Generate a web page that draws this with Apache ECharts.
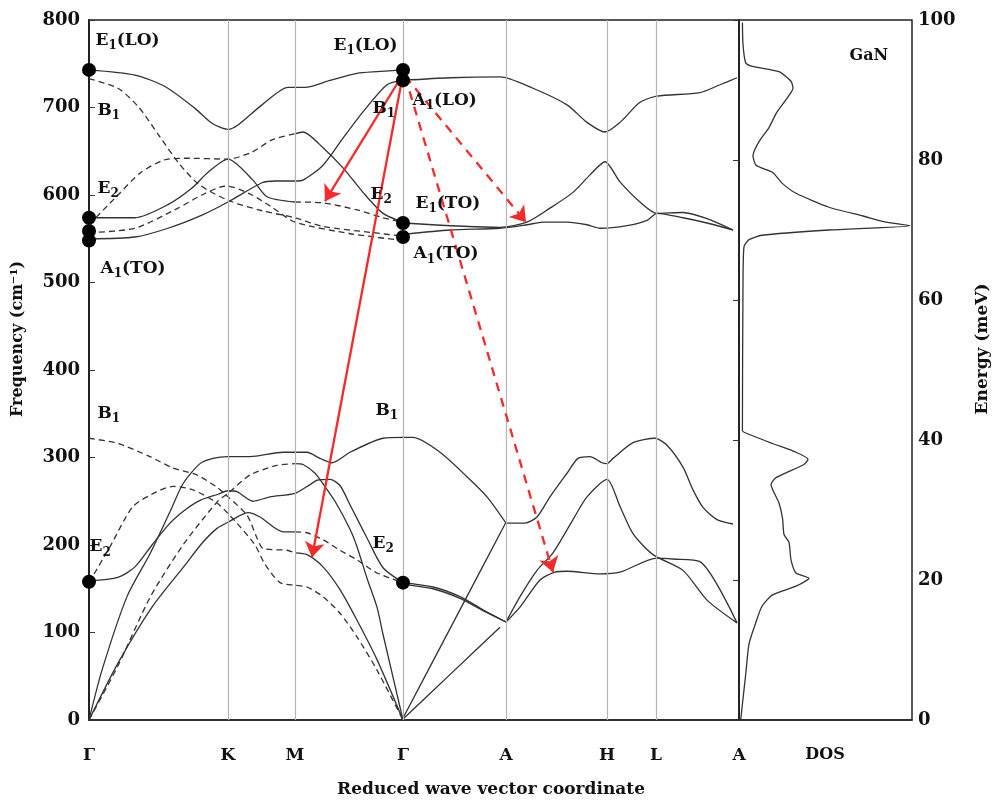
<!DOCTYPE html>
<html><head><meta charset="utf-8">
<script src="https://cdn.jsdelivr.net/npm/echarts@6/dist/echarts.min.js"></script>
<style>html,body{margin:0;padding:0;background:#fff}#c{width:992px;height:802px}</style>
</head><body><div id="c"></div>
<script>
// ---------- axis / tick data ----------
const symLabels = ['Γ','K','M','Γ','A','H','L','A'];
const symPos = [0,139,206,314,417,518,567,650];
const freqTicks = [0,100,200,300,400,500,600,700,800];
const energyTicks = [0,20,40,60,80,100];

// ---------- dispersion branches [reduced coordinate, cm^-1] ----------
// Gamma-K-M-Gamma, optical
const hiTop = [[0,743],[46,737],[76,724],[106,699],[123,682],[139,675],[149,680],[173,703],[199,723],[206,723],[216,723],[241,731],[268,739],[288,741],[314,743]];
const hiB1Dash = [[0,733],[29,722],[50,700],[70,668],[90,636],[110,612],[139,594],[173,582],[206,574],[234,564],[284,557],[314,553]];
const hiD2Dash = [[0,557],[46,562],[89,585],[113,600],[136,610],[139,610],[163,600],[183,586],[206,569],[260,556],[314,548]];
const hiD3Dash = [[0,566],[29,600],[51,625],[75,640],[100,642],[139,641],[163,649],[183,663],[206,670]];
const hiD3Solid = [[206,670],[214,672],[234,654],[254,631],[274,603],[294,579],[314,569]];
const hiS4Solid = [[0,574],[46,574],[79,589],[103,608],[119,626],[139,641],[164,617],[178,598],[206,592]];
const hiS4Dash = [[206,592],[234,591],[268,583],[294,574],[314,569]];
const hiS5Solid = [[0,550],[46,552],[79,562],[113,577],[139,592],[173,614],[186,616],[206,616],[214,617],[234,634],[254,665],[274,695],[298,726],[314,731]];
// Gamma-K-M-Gamma, acoustic / low optical
const loTop = [[0,0],[13,57],[38,141],[61,190],[81,238],[94,270],[111,293],[124,299],[139,301],[161,301],[194,306],[206,306],[218,306],[231,299],[243,294],[261,306],[294,322],[314,323]];
const loE2Solid = [[0,159],[29,163],[46,175],[63,200],[81,225],[96,240],[111,251],[129,258],[139,262],[148,261],[164,250],[181,255],[206,259],[221,269],[228,274],[241,275],[251,268],[261,246],[278,208],[294,174],[314,157]];
const loMidSolid = [[0,0],[29,65],[63,129],[96,177],[113,202],[128,219],[139,226],[159,237],[171,232],[194,215],[206,215]];
const loMidDash = [[206,215],[218,214],[234,206],[251,194],[268,183],[288,168],[314,157]];
const loAcDash = [[0,0],[29,62],[61,140],[94,200],[128,249],[139,259],[161,280],[188,291],[206,293]];
const loAcSolid = [[206,293],[214,292],[226,282],[234,270],[246,250],[261,218],[268,198],[278,162],[288,129],[294,98],[314,0]];
const loB1Dash = [[0,322],[29,316],[61,301],[84,288],[108,280],[128,266],[139,255],[158,234],[168,208],[174,196],[198,194],[206,191]];
const loB1Solid = [[206,191],[218,189],[234,175],[251,149],[268,114],[288,69],[314,0]];
const loE2Dash = [[0,157],[21,198],[44,244],[68,261],[84,267],[104,263],[128,248],[139,236],[151,221],[166,200],[176,178],[191,157],[206,154],[218,152],[234,141],[251,122],[268,95],[288,57],[314,0]];
// Gamma-A-H-L-A
const gaB1 = [[314,323],[324,323],[351,306],[378,278],[398,255],[417,225]];
const gaLA = [[313,0],[365,113],[417,226]];
const gaTA = [[313,0],[362,53],[411,106]];
const gaUp = [[417,225],[436,225],[448,232],[461,255],[478,282],[489,299],[501,301],[513,294],[518,293],[524,299],[544,317],[566,322],[578,314],[594,289],[604,263],[614,243],[628,229],[644,224]];
const gaE2a = [[314,157],[344,152],[371,141],[394,126],[417,112]];
const gaE2b = [[314,155],[344,150],[371,139],[394,125],[417,112]];
const gaH1 = [[417,112],[431,141],[448,171],[464,191],[484,229],[498,255],[518,275],[531,244],[544,213],[564,189],[594,171],[618,137],[648,111]];
const gaH2 = [[417,112],[431,129],[451,160],[466,169],[478,170],[511,167],[531,169],[568,185],[584,184],[611,181],[648,111]];
const gaTop = [[314,731],[361,734],[411,735],[444,722],[478,703],[498,683],[516,672],[531,683],[551,706],[568,713],[611,717],[631,726],[648,734]];
const gaMid = [[314,568],[411,563],[438,569],[461,585],[484,603],[501,623],[516,638],[531,615],[551,592],[568,579],[594,580],[618,573],[644,560]];
const gaLow = [[314,555],[361,560],[411,562],[438,566],[454,569],[478,569],[498,566],[511,562],[538,565],[558,571],[568,579],[594,574],[618,568],[644,560]];

// ---------- phonon density of states [DOS, cm^-1] ----------
const dos = [[3.4,797],[4,772],[6.7,751],[13.4,747],[40,741],[52,730],[54,722],[47,709],[37,693],[30,677],[20,661],[14,645],[17,634],[33.5,626],[43.6,613],[57,602],[90,586],[124,576],[147,569],[171,565],[90,560],[23,554],[10,549],[5,541],[4,496],[3.4,331],[6.7,328],[33.5,316],[57,306],[69,298],[65,292],[37,277],[32,269],[35,260],[40,248],[43.6,230],[45,212],[50,203],[52,183],[57,168],[70,162],[57,153],[33.5,143],[23,130],[17,112],[10,87],[6.7,52],[3.4,18],[1.7,0]];

// ---------- Gamma-point modes (dots) ----------
const gammaModes = [[0,743],[0,574],[0,559],[0,548],[0,158],[314,743],[314,731],[314,568],[314,552],[314,157]];

// ---------- scattering arrows ----------
const solidArrows = [[[314,738],[236,593]],[[314,738],[223,186]]];
const dashedArrows = [[[316,736],[437,569]],[[316,736],[464,169]]];

// ---------- mode labels ----------
const modeLabelText = [
 '{m|E}{s|1}{m|(LO)}','{m|B}{s|1}','{m|E}{s|2}','{m|A}{s|1}{m|(TO)}',
 '{m|E}{s|1}{m|(LO)}','{m|B}{s|1}','{m|E}{s|2}','{m|A}{s|1}{m|(LO)}','{m|E}{s|1}{m|(TO)}','{m|A}{s|1}{m|(TO)}',
 '{m|B}{s|1}','{m|E}{s|2}','{m|B}{s|1}','{m|E}{s|2}'];
const modeLabelPos = [
 [6,775],[8,695],[8,606],[11,514],
 [244,769],[283,697],[281,599],[323,706],[326,589],[324,531],
 [8,349],[0,196],[286,352],[283,200]];

const FONT = 'DejaVu Serif';
const INK = '#111';
const chart = echarts.init(document.getElementById('c'), null, {renderer:'canvas'});

function branch(data, dashed){
  return {type:'line', xAxisIndex:0, yAxisIndex:0, data:data, smooth:0.25, symbol:'none',
    lineStyle:{color:'#333', width:1.3, type: dashed ? [6,4] : 'solid'},
    silent:true, animation:false, z:3};
}
const solidBranches = [hiTop,hiD3Solid,hiS4Solid,hiS5Solid,loTop,loE2Solid,loMidSolid,loAcSolid,loB1Solid,gaB1,gaLA,gaTA,gaUp,gaE2a,gaE2b,gaH1,gaH2,gaTop,gaMid,gaLow];
const dashedBranches = [hiB1Dash,hiD2Dash,hiD3Dash,hiS4Dash,loMidDash,loAcDash,loB1Dash,loE2Dash];

const series = [];
series.push({type:'line', xAxisIndex:0, yAxisIndex:0, data:[], symbol:'none', silent:true, animation:false, z:1,
  markLine:{silent:true, symbol:['none','none'], animation:false, label:{show:false},
    lineStyle:{color:'#b4b4b4', width:1.2, type:'solid'},
    data: symPos.slice(1,7).map(v => ({xAxis:v}))}});
solidBranches.forEach(d => series.push(branch(d,false)));
dashedBranches.forEach(d => series.push(branch(d,true)));
series.push({type:'line', xAxisIndex:1, yAxisIndex:2, data:dos, smooth:0.2, symbol:'none',
  lineStyle:{color:'#333', width:1.3}, silent:true, animation:false});
series.push({type:'scatter', xAxisIndex:0, yAxisIndex:0, data:gammaModes, symbolSize:14,
  itemStyle:{color:'#000', opacity:1}, silent:true, animation:false, z:6});
series.push({type:'lines', coordinateSystem:'cartesian2d', xAxisIndex:0, yAxisIndex:0,
  symbol:['none','arrow'], symbolSize:15, silent:true, animation:false, z:5,
  lineStyle:{color:'#f52a2a', width:2.3, type:'solid', opacity:1, curveness:0},
  data: solidArrows.map(a => ({coords:a}))});
series.push({type:'lines', coordinateSystem:'cartesian2d', xAxisIndex:0, yAxisIndex:0,
  symbol:['none','arrow'], symbolSize:15, silent:true, animation:false, z:5,
  lineStyle:{color:'#f52a2a', width:2.3, type:[9,7], opacity:1, curveness:0},
  data: dashedArrows.map(a => ({coords:a}))});
series.push({type:'scatter', xAxisIndex:0, yAxisIndex:0, symbolSize:1, itemStyle:{color:'rgba(0,0,0,0)', opacity:1},
  silent:true, animation:false, z:7,
  data: modeLabelPos.map((p,i) => ({value:p, name:modeLabelText[i]})),
  label:{show:true, position:'right', distance:0, formatter: p => p.name, color:INK, opacity:1,
    rich:{
      m:{fontFamily:FONT, fontWeight:'bold', fontSize:17, color:INK, lineHeight:20, verticalAlign:'top'},
      s:{fontFamily:FONT, fontWeight:'bold', fontSize:12, color:INK, lineHeight:12, verticalAlign:'bottom', padding:[10,0,0,0]}
    }},
  labelLayout:{hideOverlap:false}});
series.push({type:'scatter', xAxisIndex:1, yAxisIndex:2, symbolSize:1, itemStyle:{color:'rgba(0,0,0,0)', opacity:1},
  silent:true, animation:false, data:[{value:[110,759], name:'GaN'}],
  label:{show:true, position:'right', distance:0, formatter:'{b}', fontFamily:FONT, fontWeight:'bold', fontSize:16, color:INK, opacity:1}});

const labelStyle = {fontFamily:FONT, fontWeight:'bold', color:INK};
chart.setOption({
  animation:false,
  backgroundColor:'#fff',
  grid:[
    {left:89, top:20, width:650, height:700, show:true, borderColor:'#222', borderWidth:1.5, backgroundColor:'transparent'},
    {left:739, top:20, width:173, height:700, show:true, borderColor:'#222', borderWidth:1.5, backgroundColor:'transparent'}
  ],
  xAxis:[
    {gridIndex:0, type:'value', min:0, max:650, splitLine:{show:false}, axisTick:{show:false},
     axisLine:{show:true, lineStyle:{color:'#222', width:1.5}},
     axisLabel:Object.assign({customValues:symPos, formatter:v => symLabels[symPos.indexOf(v)], fontSize:17, margin:27, showMinLabel:true, showMaxLabel:true, hideOverlap:false}, labelStyle)},
    {gridIndex:1, type:'value', min:0, max:173, splitLine:{show:false}, axisTick:{show:false},
     axisLine:{show:true, lineStyle:{color:'#222', width:1.5}},
     axisLabel:Object.assign({customValues:[86], formatter:() => 'DOS', fontSize:16, margin:27}, labelStyle)}
  ],
  yAxis:[
    {gridIndex:0, type:'value', min:freqTicks[0], max:freqTicks[freqTicks.length-1], interval:100, position:'left',
     splitLine:{show:false}, axisLine:{show:true, lineStyle:{color:'#222', width:2}},
     axisTick:{show:true, inside:true, length:6, lineStyle:{color:'#333', width:1}},
     axisLabel:Object.assign({fontSize:18, margin:9}, labelStyle)},
    {gridIndex:1, type:'value', min:energyTicks[0], max:energyTicks[energyTicks.length-1], interval:20, position:'right',
     splitLine:{show:false}, axisLine:{show:true, lineStyle:{color:'#222', width:1.5}},
     axisTick:{show:true, inside:true, length:6, lineStyle:{color:'#333', width:1}},
     axisLabel:Object.assign({fontSize:18, margin:6}, labelStyle)},
    {gridIndex:1, type:'value', min:0, max:800, show:false}
  ],
  graphic:[
    {type:'text', x:18, y:339, rotation:Math.PI/2, silent:true,
     style:{text:'Frequency (cm⁻¹)', font:'bold 16px "DejaVu Serif"', fill:INK, align:'center', verticalAlign:'middle'}},
    {type:'text', x:983, y:349, rotation:Math.PI/2, silent:true,
     style:{text:'Energy (meV)', font:'bold 17px "DejaVu Serif"', fill:INK, align:'center', verticalAlign:'middle'}},
    {type:'text', x:491, y:790, silent:true,
     style:{text:'Reduced wave vector coordinate', font:'bold 17px "DejaVu Serif"', fill:INK, align:'center', verticalAlign:'middle'}}
  ],
  series:series
});
</script></body></html>
